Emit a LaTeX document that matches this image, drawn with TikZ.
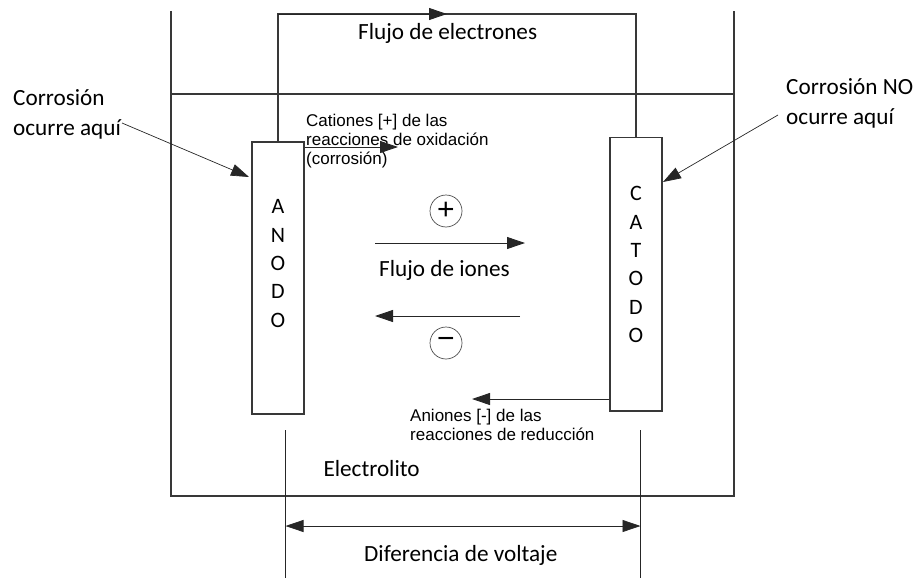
\documentclass[tikz,border=0pt]{standalone}
\usepackage{fontspec}
\setmainfont{Carlito}
\newfontfamily\arialfont{Liberation Sans}
\usetikzlibrary{arrows.meta, positioning}

\begin{document}
\begin{tikzpicture}[
  x=1pt, y=-1pt,
  wall/.style      = {line width=1.3pt, black!78},
  electrode/.style = {draw=black!78, line width=1.3pt, minimum width=52pt,
                      inner sep=0pt},
  letters/.style   = {align=center, inner sep=0pt,
                      font=\fontsize{22}{28.4}\selectfont},
  arr/.style       = {-{Triangle[length=18pt, width=12pt]}, line width=0.9pt,
                      black!85},
  dimline/.style   = {line width=0.8pt, black!85},
  callout/.style   = {align=left, inner sep=0pt,
                      font=\fontsize{23.2}{29.5}\selectfont},
  note/.style      = {align=left, inner sep=0pt,
                      font=\arialfont\fontsize{17}{19}\selectfont},
  ion/.style       = {circle, draw=black!70, line width=0.7pt,
                      minimum size=32pt, inner sep=0pt,
                      font=\arialfont\fontsize{30}{30}\selectfont}
]
\useasboundingbox (0,0) rectangle (915,578);

%% ---- CELL ----
\draw[wall] (171,11) -- (171,496) -- (734,496) -- (734,11);
\draw[wall] (171,94) -- (734,94);

\node[electrode, minimum height=272pt]   (anode)   at (278,278)    {};
\node[electrode, minimum height=273.5pt] (cathode) at (636,274.25) {};
\node[letters] (anodetxt)   at (278,263.5) {A\\N\\O\\D\\O};
\node[letters] (cathodetxt) at (636,264.7) {C\\A\\T\\O\\D\\O};

%% ---- EXTERNAL WIRE ----
\coordinate (wireL) at (278,14);
\coordinate (wireR) at (636,14);
\coordinate (wirehead) at (447,14);
\draw[wall] (anode.north) -- (wireL) -- (wireR) -- (cathode.north);
\draw[arr] (wireL) -- (wirehead);
\node[callout, anchor=base west] (eflow) at (358,39.3) {Flujo de electrones};

%% ---- IONS ----
\node[ion] (cation) at (446,211) {+};
\node[ion] (anion)  at (446,343) {−};

\coordinate (fluxA) at (375,243);
\coordinate (fluxB) at (525,243);
\coordinate (fluxC) at (520,316);
\coordinate (fluxD) at (375,316);
\draw[arr] (fluxA) -- (fluxB);
\draw[arr] (fluxC) -- (fluxD);
\node[callout, anchor=base west] (ionflow) at (379,276.7) {Flujo de iones};

% reaction products
\coordinate (catend) at (398,147);
\coordinate (anend)  at (472,399);
\node[note, anchor=base west] (cations) at (306,164.5)
  {Cationes [+] de las\\reacciones de oxidación\\(corrosión)};
\draw[arr] (anode.east |- catend) -- (catend);
\node[note, anchor=base west] (anions) at (410,440.7)
  {Aniones [-] de las\\reacciones de reducción};
\draw[arr] (cathode.west |- anend) -- (anend);

\node[callout, anchor=base west] (electrolyte) at (323.3,476.7) {Electrolito};

%% ---- CALLOUTS ----
\node[callout, anchor=base west] (corrL) at (13,135)
  {Corrosión\\ocurre aquí};
\node[callout, anchor=base west] (corrR) at (786,124)
  {Corrosión NO\\ocurre aquí};
\coordinate (corrLtail) at (122,123);
\coordinate (corrLtip)  at (249,177);
\coordinate (corrRtail) at (778,115);
\coordinate (corrRtip)  at (663,182);
\draw[arr, line width=0.7pt] (corrLtail) -- (corrLtip);
\draw[arr, line width=0.7pt] (corrRtail) -- (corrRtip);

%% ---- VOLTAGE ----
\coordinate (dimL) at (285.5,430);
\coordinate (dimR) at (640.5,430);
\coordinate (dimLend) at (285.5,578);
\coordinate (dimRend) at (640.5,578);
\coordinate (dimArrL) at (285.5,526);
\coordinate (dimArrR) at (640.5,526);
\draw[dimline] (dimL) -- (dimLend);
\draw[dimline] (dimR) -- (dimRend);
\draw[dimline, {Triangle[length=18pt, width=12pt]}-{Triangle[length=18pt, width=12pt]}]
  (dimArrL) -- (dimArrR);
\node[callout, anchor=base west] (voltage) at (364,561) {Diferencia de voltaje};

\end{tikzpicture}
\end{document}
